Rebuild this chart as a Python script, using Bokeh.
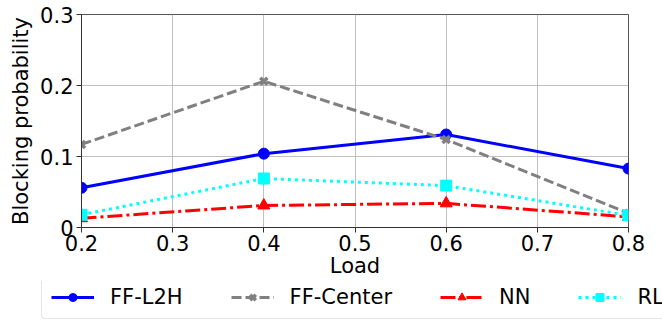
from bokeh.plotting import figure
from bokeh.models import Legend, LegendItem, FixedTicker, Range1d
from bokeh.layouts import column
from bokeh.embed import file_html
from bokeh.resources import INLINE

load = [0.2, 0.4, 0.6, 0.8]
ff_l2h = [0.056, 0.104, 0.131, 0.083]
ff_center = [0.117, 0.206, 0.124, 0.020]
nn = [0.013, 0.031, 0.034, 0.015]
rl = [0.018, 0.069, 0.059, 0.017]
series_names = ["FF-L2H", "FF-Center", "NN", "RL"]

x_ticks = [0.2, 0.3, 0.4, 0.5, 0.6, 0.7, 0.8]
y_ticks = [0.0, 0.1, 0.2, 0.3]

FONT = "DejaVu Sans"
FS = "21px"

styles = [
    dict(color="blue", dash="solid", marker="circle", size=11),
    dict(color="gray", dash="10 4", marker="x", size=10),
    dict(color="red", dash="15 4 3 4", marker="triangle", size=12),
    dict(color="cyan", dash="3 4", marker="square", size=11),
]
values = [ff_l2h, ff_center, nn, rl]
lw = 3


def draw_series(fig, xs, ys, st):
    r_line = fig.line(xs, ys, color=st["color"], line_width=lw, line_dash=st["dash"])
    if st["marker"] == "x":
        r_m = fig.scatter(xs, ys, marker="x", size=st["size"], line_color=st["color"], line_width=3.5)
    else:
        r_m = fig.scatter(xs, ys, marker=st["marker"], size=st["size"], color=st["color"])
    return r_line, r_m


p = figure(width=662, height=281, output_backend="svg", toolbar_location=None,
           x_range=Range1d(0.2, 0.8), y_range=Range1d(0.0, 0.3),
           min_border_left=81, min_border_right=34, min_border_top=14, min_border_bottom=54)
p.outline_line_color = "#555555"
p.outline_line_width = 1
p.xaxis.ticker = FixedTicker(ticks=x_ticks)
p.yaxis.ticker = FixedTicker(ticks=y_ticks)
for ax in (p.xaxis, p.yaxis):
    ax.major_label_text_font = FONT
    ax.major_label_text_font_size = FS
    ax.major_label_text_color = "black"
    ax.axis_label_text_font = FONT
    ax.axis_label_text_font_size = FS
    ax.axis_label_text_font_style = "normal"
    ax.axis_label_text_color = "black"
    ax.axis_line_color = "#333333"
    ax.major_tick_line_color = "#333333"
    ax.major_tick_out = 5
    ax.major_tick_in = 0
    ax.minor_tick_line_color = None
p.xaxis.axis_label = "Load"
p.yaxis.axis_label = "Blocking probability"
p.xaxis.axis_label_standoff = 0
p.yaxis.axis_label_standoff = 4
p.xaxis.major_label_standoff = 2
p.yaxis.major_label_standoff = 3
p.grid.grid_line_color = "#b0b0b0"
p.grid.grid_line_width = 1
p.grid.grid_line_alpha = 0.8

for vals, st in zip(values, styles):
    draw_series(p, load, vals, st)

# legend strip under the chart (its data lies outside its own view)
lf = figure(width=662, height=39, output_backend="svg", toolbar_location=None,
            x_axis_location=None, y_axis_location=None,
            x_range=Range1d(0.2, 0.8), y_range=Range1d(10, 11),
            min_border_left=0, min_border_right=0, min_border_top=0, min_border_bottom=0)
lf.grid.visible = False
lf.outline_line_color = None

aligned = True
if "frame_align" in lf.properties():
    lf.frame_align = False
    p.frame_align = False
    aligned = False

items = []
for name, vals, st in zip(series_names, values, styles):
    r_line, r_m = draw_series(lf, load, vals, st)
    items.append(LegendItem(label=name, renderers=[r_line, r_m]))

legend = Legend(items=items, orientation="horizontal",
                location=(-40, 1) if aligned else (41, 1))
legend.label_text_font = FONT
legend.label_text_font_size = FS
legend.label_text_color = "black"
legend.glyph_width = 43
legend.glyph_height = 20
legend.label_height = 20
legend.spacing = 48
legend.padding = 9
legend.margin = 0
legend.border_line_color = "#cccccc"
legend.border_radius = 4
legend.background_fill_alpha = 1
legend.label_standoff = 16
lf.add_layout(legend, "center")

layout = column(p, lf, spacing=0)
open("out.html", "w").write(file_html(layout, INLINE))
